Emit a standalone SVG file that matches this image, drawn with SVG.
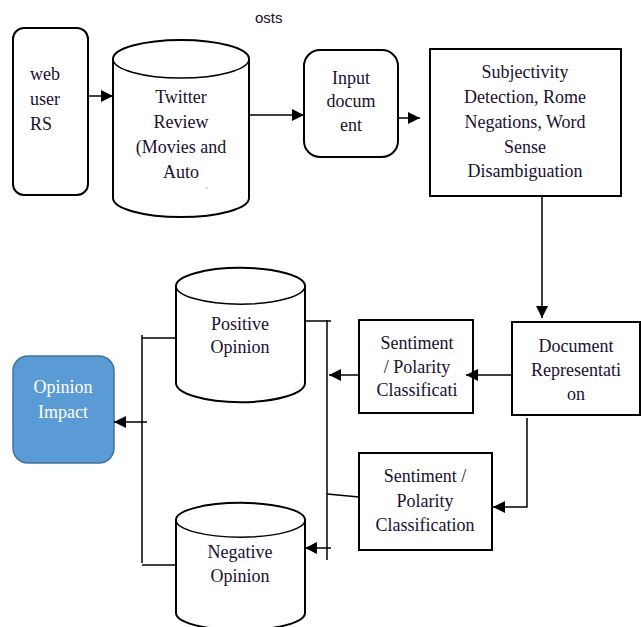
<svg xmlns="http://www.w3.org/2000/svg" width="641" height="627" viewBox="0 0 641 627">
<defs>
<marker id="ah" viewBox="0 0 10 10" refX="10" refY="5" markerWidth="12" markerHeight="12" markerUnits="userSpaceOnUse" orient="auto">
<path d="M0,0 L10,5 L0,10 z" fill="#000"/>
</marker>
</defs>
<style>
.n{fill:#fff;stroke:#000;stroke-width:2}
.t{font-family:"Liberation Serif","DejaVu Serif",serif;font-size:18px;fill:#1a1030;text-anchor:middle}
.s{font-family:"Liberation Sans","DejaVu Sans",sans-serif;font-size:15px;fill:#1a1030}
.c{fill:none;stroke:#000;stroke-width:1.5}
.a{marker-end:url(#ah)}
</style>
<rect width="641" height="627" fill="#fff"/>
<text class="s" x="255" y="23">osts</text>
<g id="webuser">
<rect class="n" x="13" y="28" width="75" height="167" rx="11"/>
<text class="t" style="text-anchor:start" x="30" y="80">web</text>
<text class="t" style="text-anchor:start" x="30" y="105">user</text>
<text class="t" style="text-anchor:start" x="30" y="130">RS</text>
</g>
<g id="twitter">
<path class="n" d="M113,59 A68,19 0 0 1 249,59 L249,198 A68,19 0 0 1 113,198 Z"/>
<path class="c" stroke-width="2" d="M113,59 A68,19 0 0 0 249,59"/>
<text class="t" x="181" y="103">Twitter</text>
<text class="t" x="181" y="128">Review</text>
<text class="t" x="181" y="153">(Movies and</text>
<text class="t" x="181" y="178">Auto</text>
<circle cx="207" cy="188" r="0.8" fill="#9ab"/>
</g>
<g id="input">
<rect class="n" x="304" y="50" width="94" height="107" rx="16"/>
<text class="t" x="351" y="84">Input</text>
<text class="t" x="351" y="107">docum</text>
<text class="t" x="351" y="131">ent</text>
</g>
<g id="subjectivity">
<rect class="n" x="430" y="49" width="191" height="147"/>
<text class="t" x="525" y="78">Subjectivity</text>
<text class="t" x="525" y="103">Detection, Rome</text>
<text class="t" x="525" y="128">Negations, Word</text>
<text class="t" x="525" y="153">Sense</text>
<text class="t" x="525" y="177">Disambiguation</text>
</g>
<g id="docrep">
<rect class="n" x="512" y="322" width="128" height="93"/>
<text class="t" x="576" y="352">Document</text>
<text class="t" x="576" y="376">Representati</text>
<text class="t" x="576" y="400">on</text>
</g>
<g id="sent1">
<rect class="n" x="359" y="320" width="114" height="93"/>
<text class="t" x="417" y="349">Sentiment</text>
<text class="t" x="417" y="373">/ Polarity</text>
<text class="t" x="417" y="396">Classificati</text>
</g>
<g id="sent2">
<rect class="n" x="359" y="453" width="133" height="97"/>
<text class="t" x="425" y="482">Sentiment /</text>
<text class="t" x="425" y="507">Polarity</text>
<text class="t" x="425" y="531">Classification</text>
</g>
<g id="positive">
<path class="n" d="M176,286 A64,18 0 0 1 305,286 L305,383 A64,19 0 0 1 176,383 Z"/>
<path class="c" stroke-width="2" d="M176,286 A64,18 0 0 0 305,286"/>
<text class="t" x="240" y="330">Positive</text>
<text class="t" x="240" y="353">Opinion</text>
</g>
<g id="negative">
<path class="n" d="M176,520 A64,17 0 0 1 305,520 L305,613 A64,17 0 0 1 176,613 Z"/>
<path class="c" stroke-width="2" d="M176,520 A64,17 0 0 0 305,520"/>
<text class="t" x="240" y="558">Negative</text>
<text class="t" x="240" y="582">Opinion</text>
</g>
<g id="impact">
<rect x="13" y="356" width="101" height="107" rx="15" fill="#5b9bd5" stroke="#41719c" stroke-width="1.5"/>
<text class="t" x="63" y="393" style="fill:#fff">Opinion</text>
<text class="t" x="63" y="418" style="fill:#fff">Impact</text>
</g>
<g id="connectors">
<line class="c a" x1="88" y1="96" x2="113" y2="96"/>
<line class="c a" x1="249" y1="115" x2="304" y2="115"/>
<line class="c a" x1="398" y1="118" x2="420" y2="118"/>
<line class="c a" x1="542" y1="196" x2="542" y2="318"/>
<line class="c a" x1="512" y1="375" x2="466" y2="375"/>
<line class="c a" x1="359" y1="375" x2="329" y2="375"/>
<line class="c" x1="327" y1="320" x2="327" y2="560"/>
<line class="c" x1="305" y1="321" x2="331" y2="321"/>
<polyline class="c a" points="527,418 527,507 493,507"/>
<line class="c" x1="327" y1="494" x2="359" y2="497"/>
<line class="c a" x1="331" y1="548" x2="305" y2="548"/>
<line class="c" x1="142" y1="335" x2="142" y2="563"/>
<line class="c" x1="142" y1="338" x2="176" y2="338"/>
<line class="c" x1="142" y1="565" x2="176" y2="565"/>
<line class="c a" x1="147" y1="422" x2="114" y2="422"/>
</g>
</svg>
